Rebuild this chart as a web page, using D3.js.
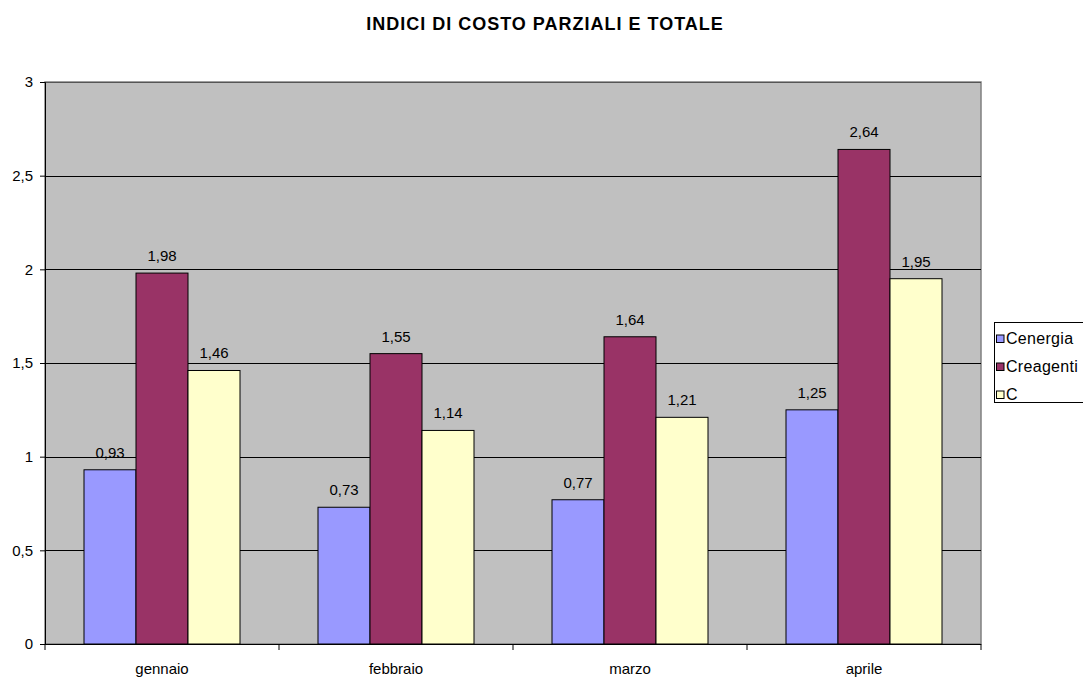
<!DOCTYPE html>
<html>
<head>
<meta charset="utf-8">
<script src="https://cdn.jsdelivr.net/npm/d3@7"></script>
<style>
  body { margin: 0; background: #fff; }
  svg { display: block; font-family: "Liberation Sans", Arial, sans-serif; }
</style>
</head>
<body>
<svg id="chart" width="1083" height="677"></svg>
<script>
// Months and cost indices
const categories = ["gennaio", "febbraio", "marzo", "aprile"];
const seriesNames = ["Cenergia", "Creagenti", "C"];
const cenergia = [0.93, 0.73, 0.77, 1.25];
const creagenti = [1.98, 1.55, 1.64, 2.64];
const cTotale = [1.46, 1.14, 1.21, 1.95];
const yTicks = [0, 0.5, 1, 1.5, 2, 2.5, 3];
const colors = ["#9999FF", "#993366", "#FFFFCC"];

const seriesValues = [cenergia, creagenti, cTotale];
const fmt = v => String(v).replace(".", ",");

const svg = d3.select("#chart");
const plot = { left: 45, right: 981, top: 82, bottom: 644 };

const x0 = d3.scaleBand().domain(categories).range([plot.left, plot.right]).paddingInner(0).paddingOuter(0);
// Bars take 2/3 of each category band (gap of 150% of a bar width)
const x1 = d3.scaleBand().domain(seriesNames).range([0, x0.bandwidth()]).paddingInner(0).paddingOuter(0.75);
const y = d3.scaleLinear().domain([0, 3]).range([plot.bottom, plot.top]);

// Title
svg.append("text")
  .attr("x", 545).attr("y", 30)
  .attr("text-anchor", "middle")
  .attr("font-weight", "bold")
  .attr("font-size", 18)
  .attr("letter-spacing", 1)
  .text("INDICI DI COSTO PARZIALI E TOTALE");

// Plot background
svg.append("rect")
  .attr("x", plot.left).attr("y", plot.top)
  .attr("width", plot.right - plot.left).attr("height", plot.bottom - plot.top)
  .attr("fill", "#C0C0C0")
  .attr("stroke", "#808080").attr("stroke-width", 1.5);

// Gridlines
svg.append("g").selectAll("line")
  .data(yTicks.filter(t => t > 0))
  .join("line")
  .attr("x1", plot.left).attr("x2", plot.right)
  .attr("y1", d => Math.round(y(d)) + 0.5).attr("y2", d => Math.round(y(d)) + 0.5)
  .attr("stroke", d => d === 3 ? "#555" : "#000").attr("stroke-width", 1);

// Bars
const groups = svg.append("g").selectAll("g")
  .data(categories)
  .join("g")
  .attr("transform", d => `translate(${x0(d)},0)`);

const rows = (d, i) => seriesNames.map((s, j) => ({ s, v: seriesValues[j][i], j }));

groups.selectAll("rect")
  .data(rows)
  .join("rect")
  .attr("x", d => x1(d.s))
  .attr("y", d => y(d.v))
  .attr("width", x1.bandwidth())
  .attr("height", d => y(0) - y(d.v))
  .attr("fill", d => colors[d.j])
  .attr("stroke", "#000").attr("stroke-width", 1);

// Value labels
groups.selectAll("text")
  .data(rows)
  .join("text")
  .attr("x", d => x1(d.s) + x1.bandwidth() / 2)
  .attr("y", d => y(d.v) - 12)
  .attr("text-anchor", "middle")
  .attr("font-size", 15)
  .text(d => fmt(d.v));

// Y axis
const yAxis = d3.axisLeft(y).tickValues(yTicks).tickSize(5).tickPadding(7).tickFormat(fmt);
const gy = svg.append("g").attr("transform", `translate(${plot.left},0)`).call(yAxis);
gy.select(".domain").attr("stroke", "#000");
gy.selectAll(".tick line").attr("stroke", "#000");
gy.selectAll("text").attr("font-size", 15).attr("font-family", "Liberation Sans, Arial, sans-serif").attr("fill", "#000");

// X axis with ticks between categories
const gx = svg.append("g").attr("transform", `translate(0,${plot.bottom})`);
gx.append("line").attr("x1", plot.left).attr("x2", plot.right).attr("y1", 0.5).attr("y2", 0.5).attr("stroke", "#000");
const edges = categories.map(c => x0(c)).concat([plot.right]);
gx.selectAll("line.tick").data(edges).join("line").attr("class", "tick")
  .attr("x1", d => d).attr("x2", d => d).attr("y1", 0).attr("y2", 6).attr("stroke", "#000");
gx.selectAll("text").data(categories).join("text")
  .attr("x", d => x0(d) + x0.bandwidth() / 2)
  .attr("y", 30)
  .attr("text-anchor", "middle")
  .attr("font-size", 15)
  .text(d => d);

// Legend
const legend = svg.append("g");
legend.append("rect")
  .attr("x", 994.5).attr("y", 322.5).attr("width", 100).attr("height", 80)
  .attr("fill", "#fff").attr("stroke", "#000");
const items = legend.selectAll("g").data(seriesNames).join("g")
  .attr("transform", (d, i) => `translate(996,${338.5 + i * 28})`);
items.append("rect").attr("x", 0.5).attr("y", -3.5).attr("width", 7.5).attr("height", 7.5)
  .attr("fill", (d, i) => colors[i]).attr("stroke", "#000");
items.append("text").attr("x", 10).attr("y", 5.5).attr("font-size", 16).attr("letter-spacing", 0.3).text(d => d);
</script>
</body>
</html>
